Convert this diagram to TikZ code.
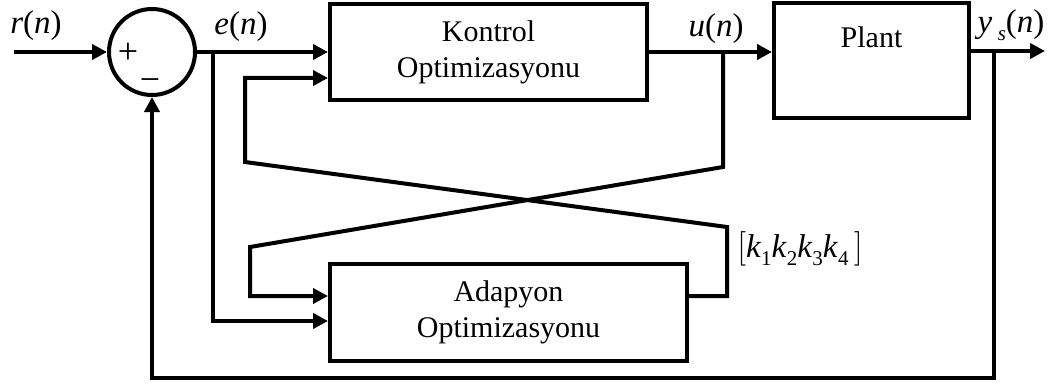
\documentclass[tikz,border=0pt]{standalone}
\usepackage{fontspec}
\setmainfont{Liberation Serif}
\usepackage{tikz}
\usetikzlibrary{positioning,arrows.meta,calc}
\newcommand{\lowsub}[1]{\raisebox{-0.5ex}{\fontsize{10.5}{11}\selectfont #1}}

\begin{document}
\begin{tikzpicture}[
  x=0.5pt,y=-0.5pt,
  font=\fontsize{15}{18}\selectfont,
  line width=2pt,
  box/.style={draw,line width=2pt,inner sep=0pt,align=center},
  sumc/.style={draw,circle,line width=2pt,inner sep=0pt,minimum size=43pt},
  sig/.style={inner sep=0pt,font=\fontsize{16.5}{18}\selectfont},
  ar/.style={-{Triangle[length=7.5pt,width=7.5pt]},line width=2pt}
]
\useasboundingbox (0,0) rectangle (1052,385);
% blocks
\node[sumc] (sum) at (152,52) {};
\node[box,minimum width=158.5pt,minimum height=48pt] (kontrol) at (488.5,52)
     {Kontrol\\Optimizasyonu};
\node[box,minimum width=97.5pt,minimum height=57.5pt,
      label={[anchor=north,inner sep=0pt,yshift=-12pt]north:Plant}] (plant) at (871.5,60.5) {};
\node[box,minimum width=178.5pt,minimum height=48.5pt] (adapyon) at (508.5,312.5)
     {Adapyon\\Optimizasyonu};
% signs
\node[inner sep=0pt,font=\fontsize{18}{18}\selectfont] (plus) at (128,53) {+};
\node[inner sep=0pt,font=\fontsize{18}{18}\selectfont] (minus) at (150,85) {−};
% branch points and bends
\coordinate (rin) at (14,52);
\coordinate (ej) at (213,52);
\coordinate (uj) at (723,52);
\coordinate (yj) at (994,51);
\coordinate (yout) at (1045,51);
\coordinate (c1) at (723,167);
\coordinate (c2) at (250,247);
\coordinate (c3) at (727,227);
\coordinate (c4) at (245,162);
\coordinate (fb) at (994,378);
% signals
\draw[ar] (rin) -- (sum);
\draw[ar] (sum) -- (kontrol);
\draw[ar] (kontrol.east) -- (kontrol.east -| plant.west);
\draw[ar] (plant.east |- yj) -- (yout);
\draw[ar] (yj) -- (fb) -| (sum.south);
\draw[ar] (ej) |- ([yshift=-4.25pt]adapyon.west);
\draw[ar] (uj) -- (c1) -- (c2) |- ([yshift=8.25pt]adapyon.west);
\draw[ar] ([yshift=8.25pt]adapyon.east) -| (c3) -- (c4) |- ([yshift=-13pt]kontrol.west);
% labels
\node[sig] (lr) at (36,26) {\textit{r}(\textit{n})};
\node[sig] (le) at (241,27) {\textit{e}(\textit{n})};
\node[sig] (lu) at (716,29) {\textit{u}(\textit{n})};
\node[sig] (ly) at (1011,25) {\textit{y}\,\lowsub{\textit{s}}(\textit{n})};
\node[sig] (lk) at (800,249)
     {$\Bigl[$\textit{k}\lowsub{1}\textit{k}\lowsub{2}\textit{k}\lowsub{3}\textit{k}\lowsub{4}\,$\Bigr]$};
\end{tikzpicture}
\end{document}
